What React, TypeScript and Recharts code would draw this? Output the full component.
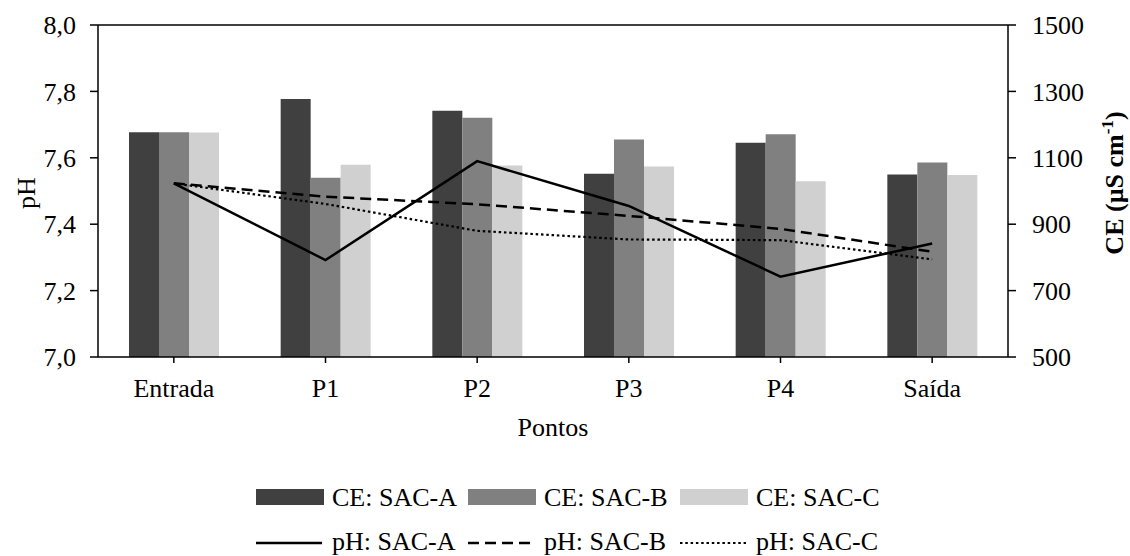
import { ComposedChart, Bar, Line, XAxis, YAxis, Legend, ReferenceLine } from "recharts";

const pontos = ["Entrada", "P1", "P2", "P3", "P4", "Saída"];
const ceSacA = [1177, 1277, 1242, 1052, 1145, 1050];
const ceSacB = [1177, 1040, 1221, 1155, 1171, 1086];
const ceSacC = [1176, 1079, 1077, 1074, 1029, 1048];
const phSacA = [7.523, 7.292, 7.59, 7.455, 7.242, 7.342];
const phSacB = [7.523, 7.483, 7.46, 7.425, 7.386, 7.317];
const phSacC = [7.523, 7.461, 7.38, 7.354, 7.352, 7.294];
const phTicks = [7.0, 7.2, 7.4, 7.6, 7.8, 8.0];
const ceTicks = [500, 700, 900, 1100, 1300, 1500];

const data = pontos.map((p, i) => ({
  ponto: p,
  ceA: ceSacA[i],
  ceB: ceSacB[i],
  ceC: ceSacC[i],
  phA: phSacA[i],
  phB: phSacB[i],
  phC: phSacC[i],
}));

const FONT = "Liberation Serif, Times New Roman, DejaVu Serif, serif";
const tickStyle = { fontSize: 26, fill: "#000", style: { fontFamily: FONT } };

const barSeries = [
  { key: "ceA", label: "CE: SAC-A", color: "#404040" },
  { key: "ceB", label: "CE: SAC-B", color: "#808080" },
  { key: "ceC", label: "CE: SAC-C", color: "#d0d0d0" },
];
const lineSeries = [
  { key: "phA", label: "pH: SAC-A", dash: undefined, width: 2.5 },
  { key: "phB", label: "pH: SAC-B", dash: "11 6", width: 2.5 },
  { key: "phC", label: "pH: SAC-C", dash: "2.5 2.8", width: 2.2 },
];

const legendCols = [256, 468, 680];

const renderLegend = () => (
  <svg width={1130} height={76} style={{ display: "block", fontFamily: FONT }}>
    {barSeries.map((s, i) => (
      <g key={s.key}>
        <rect x={legendCols[i]} y={9} width={68} height={16} fill={s.color} />
        <text x={legendCols[i] + 76} y={26} fontSize={26} fill="#000" style={{ fontFamily: FONT }}>
          {s.label}
        </text>
      </g>
    ))}
    {lineSeries.map((s, i) => (
      <g key={s.key}>
        <line
          x1={legendCols[i]}
          x2={legendCols[i] + 66}
          y1={63}
          y2={63}
          stroke="#000"
          strokeWidth={s.width}
          strokeDasharray={s.dash}
        />
        <text x={legendCols[i] + 76} y={70} fontSize={26} fill="#000" style={{ fontFamily: FONT }}>
          {s.label}
        </text>
      </g>
    ))}
  </svg>
);

export default function App() {
  return (
    <div
      style={{
        position: "absolute",
        left: 0,
        top: 0,
        width: 1130,
        height: 556,
        background: "#fff",
        fontFamily: FONT,
      }}
    >
      <ComposedChart
        width={1130}
        height={556}
        data={data}
        margin={{ top: 25, right: 0, bottom: 109, left: 0 }}
        barGap={0}
        barSize={30}
        style={{ fontFamily: FONT }}
      >
        <XAxis
          dataKey="ponto"
          height={90}
          tick={tickStyle}
          tickSize={6}
          tickMargin={16}
          stroke="#000"
          strokeWidth={1.5}
          interval={0}
          label={{
            value: "Pontos",
            position: "insideBottom",
            offset: 11,
            fontSize: 26,
            fill: "#000",
            style: { fontFamily: FONT },
          }}
        />
        <YAxis
          yAxisId="ph"
          orientation="left"
          width={98}
          domain={[7, 8]}
          ticks={phTicks}
          tickFormatter={(v: number) => v.toFixed(1).replace(".", ",")}
          tick={tickStyle}
          tickSize={8}
          tickMargin={14}
          stroke="#000"
          strokeWidth={1.5}
          interval={0}
          label={() => (
            <text
              x={35}
              y={193}
              transform="rotate(-90, 35, 193)"
              textAnchor="middle"
              fontSize={26}
              fill="#000"
              style={{ fontFamily: FONT }}
            >
              pH
            </text>
          )}
        />
        <YAxis
          yAxisId="ce"
          orientation="right"
          width={122}
          domain={[500, 1500]}
          ticks={ceTicks}
          tick={tickStyle}
          tickSize={8}
          tickMargin={16}
          stroke="#000"
          strokeWidth={1.5}
          interval={0}
          label={() => (
            <text
              x={1123}
              y={183}
              transform="rotate(-90, 1123, 183)"
              textAnchor="middle"
              fontSize={26}
              fontWeight="bold"
              fill="#000"
              style={{ fontFamily: FONT }}
            >
              <tspan>CE (µS cm</tspan>
              <tspan dy={-10} fontSize={17}>-1</tspan>
              <tspan dy={10}>)</tspan>
            </text>
          )}
        />
        <ReferenceLine yAxisId="ph" y={8} stroke="#000" strokeWidth={1.5} />
        {barSeries.map((s) => (
          <Bar key={s.key} yAxisId="ce" dataKey={s.key} fill={s.color} isAnimationActive={false} />
        ))}
        {lineSeries.map((s) => (
          <Line
            key={s.key}
            yAxisId="ph"
            type="linear"
            dataKey={s.key}
            stroke="#000"
            strokeWidth={s.width}
            strokeDasharray={s.dash}
            dot={false}
            activeDot={false}
            isAnimationActive={false}
          />
        ))}
        <Legend
          verticalAlign="middle"
          align="center"
          content={renderLegend}
          wrapperStyle={{ top: 480, left: 0, width: 1130, height: 76 }}
        />
      </ComposedChart>
    </div>
  );
}
